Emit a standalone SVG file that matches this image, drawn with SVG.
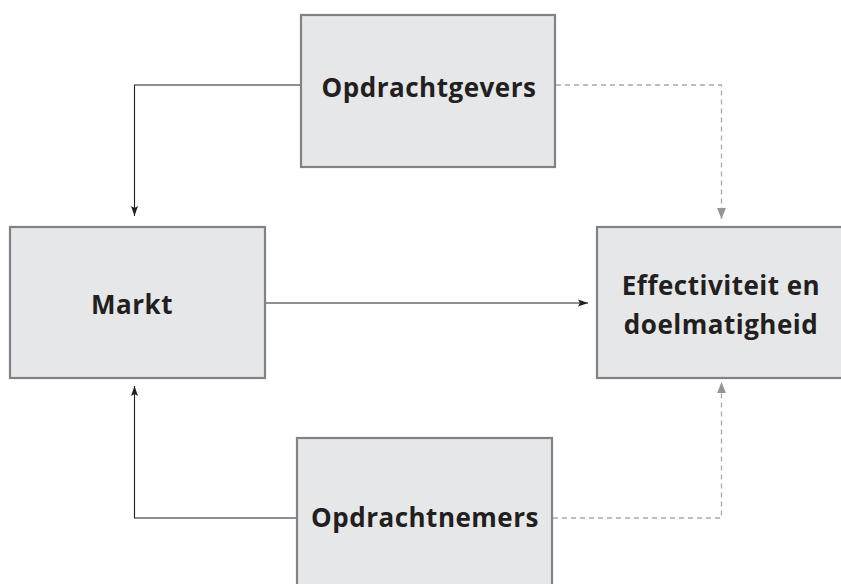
<svg xmlns="http://www.w3.org/2000/svg" width="841" height="584" viewBox="0 0 841 584">
<style>
.box{fill:#e6e7e8;stroke:#808285;stroke-width:2.2}
.lbl{font-family:"Open Sans","Noto Sans",sans-serif;font-weight:bold;font-size:26px;fill:#231f20;text-anchor:middle;letter-spacing:0.5px}
.solid{fill:none;stroke:#231f20;stroke-width:1.1}
.dash{fill:none;stroke:#a7a9ac;stroke-width:1.3;stroke-dasharray:5,4}
</style>
<defs>
<marker id="arrS" viewBox="0 0 10 10" refX="10" refY="5" markerWidth="10" markerHeight="10" markerUnits="userSpaceOnUse" orient="auto">
<path d="M0,1.5 L10,5 L0,8.5 L2,5 Z" fill="#231f20"/>
</marker>
<marker id="arrD" viewBox="0 0 10 10" refX="10" refY="5" markerWidth="11" markerHeight="11" markerUnits="userSpaceOnUse" orient="auto">
<path d="M0,1 L10,5 L0,9 Z" fill="#939598"/>
</marker>
</defs>
<g id="connectors">
<path class="solid" d="M301,85 H134.5 V216" marker-end="url(#arrS)"/>
<path class="solid" d="M297,518 H134.5 V386" marker-end="url(#arrS)"/>
<path class="solid" d="M266,303 H588" marker-end="url(#arrS)"/>
<path class="dash" d="M556,85 H721.5 V219" marker-end="url(#arrD)"/>
<path class="dash" d="M553,518 H721.5 V382" marker-end="url(#arrD)"/>
</g>
<g id="opdrachtgevers">
<rect class="box" x="301" y="15" width="254" height="152"/>
<text class="lbl" x="429" y="97">Opdrachtgevers</text>
</g>
<g id="markt">
<rect class="box" x="10" y="227" width="255" height="151"/>
<text class="lbl" x="132" y="314">Markt</text>
</g>
<g id="effectiviteit">
<rect class="box" x="597" y="227" width="250" height="151"/>
<text class="lbl" x="721" y="295">Effectiviteit en</text>
<text class="lbl" x="721" y="334">doelmatigheid</text>
</g>
<g id="opdrachtnemers">
<rect class="box" x="297" y="438" width="255" height="160"/>
<text class="lbl" x="425" y="527">Opdrachtnemers</text>
</g>
</svg>
